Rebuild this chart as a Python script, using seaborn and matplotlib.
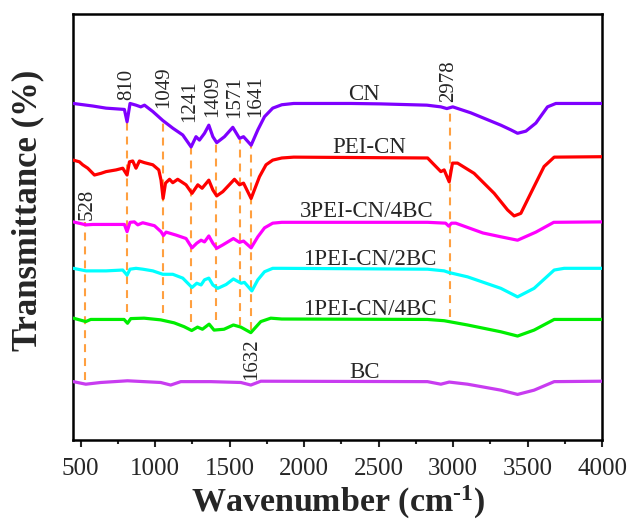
import numpy as np
import pandas as pd
import matplotlib
matplotlib.use("Agg")
import matplotlib.pyplot as plt
from matplotlib.ticker import MultipleLocator
import seaborn as sns

# FTIR spectra (offset transmittance, %), wavenumber in cm-1
cn_wn = [450, 581, 670, 793, 811, 831, 871, 903, 928, 984, 1051, 1118, 1185, 1241, 1274,
         1297, 1331, 1360, 1387, 1413, 1465, 1521, 1566, 1593, 1644, 1689, 1734, 1789, 1850,
         1930, 2313, 2515, 2824, 2918, 2958, 2998, 3119, 3321, 3388, 3433, 3489, 3556, 3634,
         3690, 4000]
cn_t = [79.0, 78.4, 77.9, 77.6, 74.7, 79.0, 78.6, 78.2, 78.6, 77.1, 75.0, 73.2, 71.6, 68.8, 71.2,
        70.4, 72.0, 73.9, 71.2, 69.8, 71.2, 73.4, 70.8, 71.2, 69.2, 72.8, 75.9, 77.9, 78.7,
        79.0, 79.0, 78.9, 78.6, 78.2, 77.8, 78.2, 76.8, 73.9, 72.8, 72.0, 72.5, 74.4, 78.2,
        79.0, 79.0]

pei_wn = [450, 491, 513, 547, 592, 636, 670, 737, 782, 811, 827, 849, 871, 894, 928, 984,
          1024, 1039, 1053, 1069, 1096, 1118, 1151, 1207, 1247, 1286, 1315, 1360, 1387, 1413,
          1454, 1532, 1566, 1593, 1644, 1700, 1744, 1789, 1850, 1930, 2829, 2862, 2918, 2940,
          2974, 2996, 3030, 3141, 3276, 3366, 3410, 3455, 3544, 3611, 3679, 4000]
pei_t = [65.7, 65.3, 64.6, 63.8, 62.2, 62.6, 63.0, 63.4, 63.8, 62.2, 65.3, 65.5, 63.8, 65.5, 65.1, 64.6,
         63.4, 61.0, 56.7, 60.3, 61.2, 60.4, 61.2, 59.9, 57.9, 59.9, 59.1, 61.0, 58.7, 57.3,
         58.3, 61.2, 59.9, 60.3, 56.7, 61.8, 64.6, 65.7, 66.2, 66.4, 66.2, 65.0, 63.0, 63.4,
         60.6, 65.0, 65.0, 62.6, 57.9, 54.0, 52.6, 53.2, 59.5, 64.2, 66.4, 66.5]

p3_wn = [450, 536, 581, 793, 811, 831, 860, 883, 916, 995, 1039, 1055, 1073, 1140, 1207, 1247,
         1279, 1308, 1331, 1360, 1387, 1413, 1454, 1525, 1566, 1593, 1644, 1689, 1734, 1789,
         1850, 2829, 2950, 2971, 2990, 3018, 3200, 3321, 3433, 3556, 3676, 4000]
p3_t = [51.2, 50.5, 50.6, 50.6, 48.9, 51.1, 51.2, 50.5, 51.0, 50.3, 48.9, 48.0, 48.8, 48.1, 47.3, 45.1,
        46.2, 46.9, 46.5, 47.9, 46.2, 45.0, 45.8, 47.3, 46.4, 46.7, 45.1, 47.7, 49.8, 50.9,
        51.1, 51.1, 50.9, 50.2, 50.9, 50.9, 48.6, 47.7, 46.9, 48.8, 51.1, 51.2]

p12_wn = [450, 536, 670, 782, 811, 831, 871, 916, 984, 1051, 1118, 1185, 1247, 1279, 1308, 1331,
          1360, 1387, 1420, 1476, 1525, 1577, 1599, 1649, 1689, 1734, 1789, 1850, 2829, 2940,
          2974, 3097, 3321, 3433, 3544, 3679, 3746, 4000]
p12_t = [40.3, 39.7, 39.7, 39.9, 38.7, 40.1, 40.3, 40.1, 39.7, 38.9, 38.9, 38.0, 35.8, 36.8, 36.4, 37.6,
         38.0, 36.4, 35.6, 36.5, 37.8, 36.8, 37.0, 35.0, 37.6, 39.5, 40.3, 40.3, 40.1, 39.7,
         39.3, 38.3, 35.6, 33.6, 35.6, 39.9, 40.3, 40.3]

p14_wn = [450, 534, 567, 791, 814, 836, 925, 1037, 1127, 1194, 1245, 1284, 1317, 1362, 1395,
          1462, 1525, 1575, 1642, 1709, 1776, 1850, 2828, 2940, 3097, 3321, 3433, 3544, 3679, 4000]
p14_t = [28.6, 27.8, 28.3, 28.3, 27.4, 28.5, 28.6, 28.2, 27.5, 26.6, 25.7, 26.5, 26.0, 27.2, 25.8,
         26.0, 27.0, 26.5, 25.2, 27.8, 28.6, 28.4, 28.3, 28.0, 27.0, 25.4, 24.4, 25.8, 28.3, 28.3]

bc_wn = [450, 534, 634, 814, 1037, 1104, 1172, 1373, 1575, 1642, 1709, 2828, 2918, 2974, 3097,
         3321, 3433, 3544, 3679, 4000]
bc_t = [13.7, 13.1, 13.5, 13.9, 13.5, 12.9, 13.7, 13.7, 13.5, 12.9, 13.8, 13.7, 13.1, 13.6, 13.1,
        11.7, 10.7, 11.7, 13.7, 13.8]

samples = ["CN", "PEI-CN", "3PEI-CN/4BC", "1PEI-CN/2BC", "1PEI-CN/4BC", "BC"]
colors = ["#7F00FF", "#FF0000", "#FF00FF", "#00FFFF", "#00EE00", "#C83CF0"]

# sample name placement (wavenumber, transmittance)
name_wn = [2400, 2435, 2421, 2441, 2441, 2408]
name_t = [79.8, 67.4, 52.3, 41.1, 29.3, 14.6]

# assigned bands and the extent of their guide lines
peak_wn = [528, 810, 1049, 1241, 1409, 1571, 1641, 2978]
peak_top = [51.2, 74.6, 74.4, 68.8, 69.7, 70.4, 69.2, 77.5]
peak_bottom = [14.1, 30.0, 29.8, 27.7, 28.2, 27.0, 25.8, 28.9]
peak_text = ["528", "810", "1049", "1241", "1409", "1571", "1641", "2978"]
peak_text_wn = [540, 810, 1060, 1232, 1386, 1531, 1675, 2971]
peak_text_t = [51.6, 79.8, 77.9, 74.6, 75.8, 75.6, 75.8, 79.3]
extra_text = "1632"
extra_wn, extra_t = 1650, 23.9

series = [(cn_wn, cn_t), (pei_wn, pei_t), (p3_wn, p3_t),
          (p12_wn, p12_t), (p14_wn, p14_t), (bc_wn, bc_t)]
df = pd.concat(
    [pd.DataFrame({"Wavenumber": w, "Transmittance": t, "Sample": s})
     for s, (w, t) in zip(samples, series)],
    ignore_index=True,
)

sns.set_style("ticks")
plt.rcParams["font.family"] = ["Liberation Serif", "DejaVu Serif"]
plt.rcParams["mathtext.fontset"] = "custom"
plt.rcParams["mathtext.rm"] = "Liberation Serif:bold"
plt.rcParams["mathtext.bf"] = "Liberation Serif:bold"
plt.rcParams["mathtext.it"] = "Liberation Serif:bold:italic"

fig = plt.figure(figsize=(6.32, 5.25), dpi=100)
ax = fig.add_axes([73.3 / 632, 1 - 440 / 525, (602 - 73.3) / 632, 426 / 525])

ax.vlines(peak_wn, peak_bottom, peak_top, colors="#FFA040", linestyles=(0, (3.8, 2.9)),
          linewidth=1.5, zorder=1)

sns.lineplot(data=df, x="Wavenumber", y="Transmittance", hue="Sample", hue_order=samples,
             palette=colors, sort=False, estimator=None, legend=False, linewidth=2.3,
             ax=ax, zorder=3)

for s, x, y in zip(samples, name_wn, name_t):
    ax.text(x, y, s, ha="center", va="baseline", fontsize=16.5, zorder=4)

for s, x, y in zip(peak_text, peak_text_wn, peak_text_t):
    ax.text(x, y, s, rotation=90, ha="center", va="bottom", fontsize=15, zorder=4)
ax.text(extra_wn, extra_t, extra_text, rotation=90, ha="center", va="top", fontsize=15, zorder=4)

ax.set_xlim(450, 4000)
ax.set_ylim(0, 100)
ax.xaxis.set_major_locator(MultipleLocator(500))
ax.xaxis.set_minor_locator(MultipleLocator(250))
ax.set_yticks([])
ax.tick_params(axis="x", which="major", direction="out", length=5, width=1.5,
               labelsize=18, pad=8)
ax.tick_params(axis="x", which="minor", direction="out", length=3, width=1.5)
for sp in ax.spines.values():
    sp.set_linewidth(1.8)
    sp.set_color("black")

ax.set_xlabel(r"Wavenumber (cm$^{\text{-}1}$)", fontsize=24.5, fontweight="bold")
ax.set_ylabel("Transmittance (%)", fontsize=25, fontweight="bold")
ax.xaxis.set_label_coords(0.5, -0.103)
ax.yaxis.set_label_coords(-0.055, 0.54)

fig.savefig("out.png", dpi=100)
